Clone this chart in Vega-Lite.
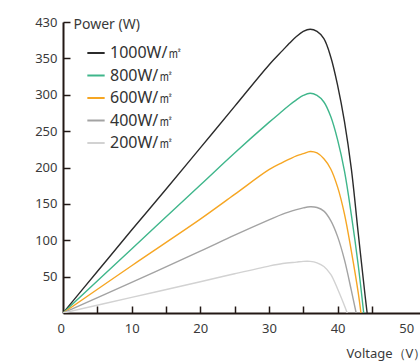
{
  "$schema": "https://vega.github.io/schema/vega-lite/v6.json",
  "width": 357,
  "height": 291,
  "autosize": {"type": "none"},
  "padding": {"left": 63, "top": 22, "right": 0, "bottom": 48},
  "background": "white",
  "config": {
    "view": {"stroke": null},
    "font": "Noto Sans",
    "axis": {
      "labelFont": "Noto Sans",
      "labelFontSize": 13,
      "labelColor": "#3a3a3a",
      "domainColor": "#231815",
      "domainWidth": 2,
      "tickColor": "#231815",
      "tickWidth": 1.5,
      "tickSize": -7,
      "grid": false,
      "titleFont": "Noto Sans",
      "titleColor": "#3a3a3a",
      "titleFontWeight": "normal"
    }
  },
  "data": {
    "values": [
      {"series": "1000W/㎡", "V": 0, "P": 0},
      {"series": "1000W/㎡", "V": 5, "P": 57},
      {"series": "1000W/㎡", "V": 10, "P": 114},
      {"series": "1000W/㎡", "V": 15, "P": 170},
      {"series": "1000W/㎡", "V": 20, "P": 227},
      {"series": "1000W/㎡", "V": 25, "P": 284},
      {"series": "1000W/㎡", "V": 30, "P": 341},
      {"series": "1000W/㎡", "V": 32, "P": 361},
      {"series": "1000W/㎡", "V": 33, "P": 371},
      {"series": "1000W/㎡", "V": 34, "P": 380},
      {"series": "1000W/㎡", "V": 35, "P": 387},
      {"series": "1000W/㎡", "V": 36, "P": 390},
      {"series": "1000W/㎡", "V": 37, "P": 387},
      {"series": "1000W/㎡", "V": 38, "P": 377},
      {"series": "1000W/㎡", "V": 39, "P": 352},
      {"series": "1000W/㎡", "V": 40, "P": 313},
      {"series": "1000W/㎡", "V": 41, "P": 263},
      {"series": "1000W/㎡", "V": 42, "P": 198},
      {"series": "1000W/㎡", "V": 43, "P": 110},
      {"series": "1000W/㎡", "V": 44, "P": 24},
      {"series": "1000W/㎡", "V": 44.3, "P": 0},
      {"series": "800W/㎡", "V": 0, "P": 0},
      {"series": "800W/㎡", "V": 10, "P": 88},
      {"series": "800W/㎡", "V": 20, "P": 176},
      {"series": "800W/㎡", "V": 25, "P": 220},
      {"series": "800W/㎡", "V": 30, "P": 262},
      {"series": "800W/㎡", "V": 32, "P": 278},
      {"series": "800W/㎡", "V": 33, "P": 286},
      {"series": "800W/㎡", "V": 34, "P": 293},
      {"series": "800W/㎡", "V": 35, "P": 299},
      {"series": "800W/㎡", "V": 36, "P": 302},
      {"series": "800W/㎡", "V": 37, "P": 299},
      {"series": "800W/㎡", "V": 38, "P": 290},
      {"series": "800W/㎡", "V": 39, "P": 270},
      {"series": "800W/㎡", "V": 40, "P": 238},
      {"series": "800W/㎡", "V": 41, "P": 195},
      {"series": "800W/㎡", "V": 42, "P": 135},
      {"series": "800W/㎡", "V": 43, "P": 66},
      {"series": "800W/㎡", "V": 43.8, "P": 0},
      {"series": "600W/㎡", "V": 0, "P": 0},
      {"series": "600W/㎡", "V": 10, "P": 65},
      {"series": "600W/㎡", "V": 20, "P": 129},
      {"series": "600W/㎡", "V": 25, "P": 163},
      {"series": "600W/㎡", "V": 30, "P": 197},
      {"series": "600W/㎡", "V": 32, "P": 207},
      {"series": "600W/㎡", "V": 34, "P": 216},
      {"series": "600W/㎡", "V": 35, "P": 219},
      {"series": "600W/㎡", "V": 36, "P": 222},
      {"series": "600W/㎡", "V": 37, "P": 220},
      {"series": "600W/㎡", "V": 38, "P": 212},
      {"series": "600W/㎡", "V": 39, "P": 198},
      {"series": "600W/㎡", "V": 40, "P": 173},
      {"series": "600W/㎡", "V": 41, "P": 136},
      {"series": "600W/㎡", "V": 42, "P": 85},
      {"series": "600W/㎡", "V": 43, "P": 28},
      {"series": "600W/㎡", "V": 43.4, "P": 0},
      {"series": "400W/㎡", "V": 0, "P": 0},
      {"series": "400W/㎡", "V": 10, "P": 42},
      {"series": "400W/㎡", "V": 20, "P": 85},
      {"series": "400W/㎡", "V": 25, "P": 107},
      {"series": "400W/㎡", "V": 30, "P": 128},
      {"series": "400W/㎡", "V": 32, "P": 136},
      {"series": "400W/㎡", "V": 34, "P": 142},
      {"series": "400W/㎡", "V": 35, "P": 144.5},
      {"series": "400W/㎡", "V": 36, "P": 146},
      {"series": "400W/㎡", "V": 37, "P": 145},
      {"series": "400W/㎡", "V": 38, "P": 140},
      {"series": "400W/㎡", "V": 39, "P": 127},
      {"series": "400W/㎡", "V": 40, "P": 105},
      {"series": "400W/㎡", "V": 41, "P": 73},
      {"series": "400W/㎡", "V": 42, "P": 31},
      {"series": "400W/㎡", "V": 42.7, "P": 0},
      {"series": "200W/㎡", "V": 0, "P": 0},
      {"series": "200W/㎡", "V": 10, "P": 21.5},
      {"series": "200W/㎡", "V": 20, "P": 43},
      {"series": "200W/㎡", "V": 25, "P": 54},
      {"series": "200W/㎡", "V": 30, "P": 64.5},
      {"series": "200W/㎡", "V": 32, "P": 68},
      {"series": "200W/㎡", "V": 34, "P": 70},
      {"series": "200W/㎡", "V": 35, "P": 71},
      {"series": "200W/㎡", "V": 36, "P": 71},
      {"series": "200W/㎡", "V": 37, "P": 69},
      {"series": "200W/㎡", "V": 38, "P": 64},
      {"series": "200W/㎡", "V": 39, "P": 53},
      {"series": "200W/㎡", "V": 40, "P": 33},
      {"series": "200W/㎡", "V": 41, "P": 10},
      {"series": "200W/㎡", "V": 41.4, "P": 0}
    ]
  },
  "mark": {"type": "line", "interpolate": "catmull-rom", "strokeWidth": 1.4, "clip": true},
  "encoding": {
    "x": {
      "field": "V",
      "type": "quantitative",
      "scale": {"domain": [0, 52], "nice": false, "zero": true},
      "axis": {
        "title": "Voltage（V）",
        "titleFontSize": 13,
        "titleAlign": "left",
        "titleBaseline": "alphabetic",
        "titleX": 283,
        "titleY": 44,
        "values": [0, 5, 10, 15, 20, 25, 30, 35, 40, 45, 50],
        "labelExpr": "datum.value % 10 == 0 ? datum.label : ''",
        "labelPadding": 16,
        "labelOffset": {"condition": {"test": "datum.value == 0", "value": -6}, "value": 0},
        "tickOpacity": {"condition": {"test": "datum.value == 0 || datum.value == 50", "value": 0}, "value": 1}
      }
    },
    "y": {
      "field": "P",
      "type": "quantitative",
      "scale": {"domain": [0, 400], "nice": false},
      "axis": {
        "title": "Power (W)",
        "titleFontSize": 14,
        "titleAngle": 0,
        "titleAlign": "left",
        "titleBaseline": "middle",
        "titleX": 10,
        "titleY": 2,
        "values": [50, 100, 150, 200, 250, 300, 350, 400],
        "labelExpr": "datum.value == 400 ? '430' : datum.label",
        "labelPadding": 13
      }
    },
    "color": {
      "field": "series",
      "type": "nominal",
      "scale": {
        "domain": ["1000W/㎡", "800W/㎡", "600W/㎡", "400W/㎡", "200W/㎡"],
        "range": ["#2b2b2b", "#3fb68b", "#f6a623", "#a3a3a3", "#d2d2d2"]
      },
      "legend": {
        "title": null,
        "orient": "none",
        "legendX": 23,
        "legendY": 21,
        "padding": 0,
        "symbolType": "stroke",
        "symbolSize": 300,
        "symbolStrokeWidth": 2,
        "labelFont": "Noto Sans",
        "labelFontSize": 16,
        "labelColor": "#333333",
        "labelOffset": 4,
        "rowPadding": 4.5
      }
    }
  }
}
